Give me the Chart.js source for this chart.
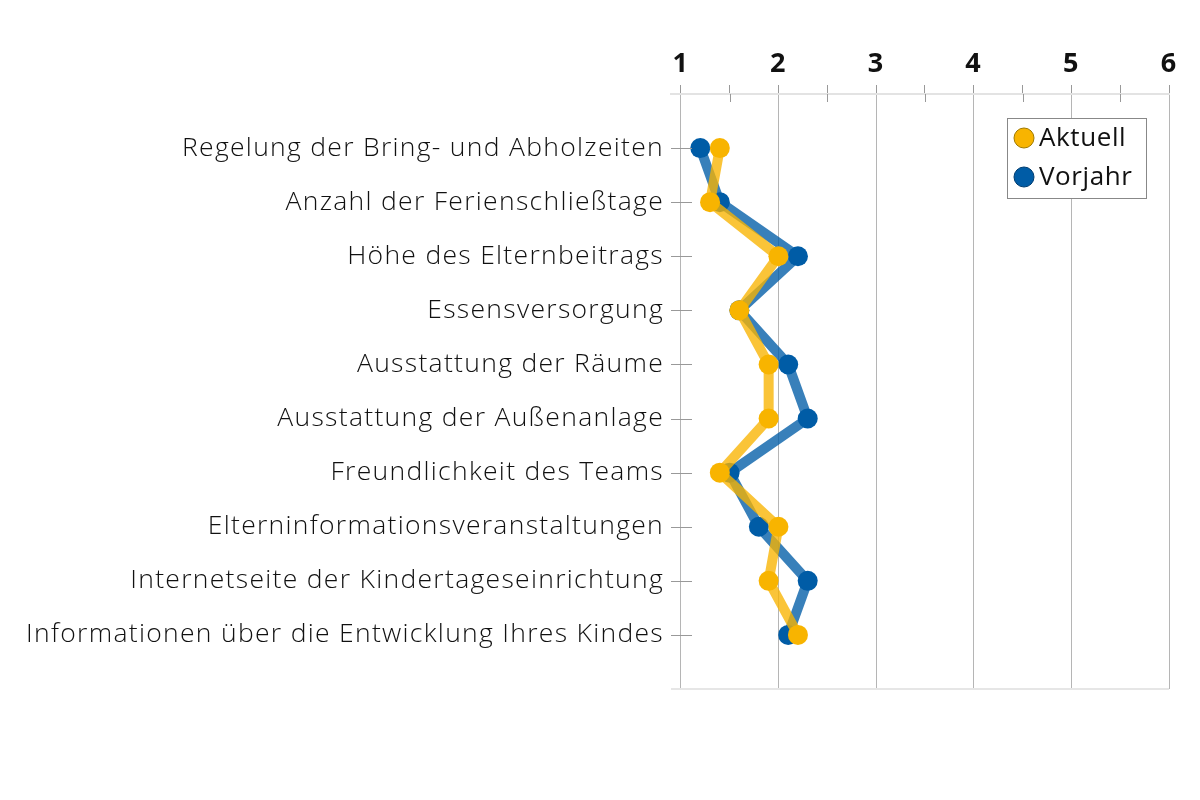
<!DOCTYPE html>
<html>
<head>
<meta charset="utf-8">
<script src="https://cdn.jsdelivr.net/npm/chart.js@4"></script>
<style>
  html, body { margin: 0; padding: 0; background: #fff; }
  #wrap { width: 1200px; height: 800px; }
</style>
</head>
<body>
<div id="wrap"><canvas id="chart"></canvas></div>
<script>
// categories (top to bottom)
const categories = [
  "Regelung der Bring- und Abholzeiten",
  "Anzahl der Ferienschließtage",
  "Höhe des Elternbeitrags",
  "Essensversorgung",
  "Ausstattung der Räume",
  "Ausstattung der Außenanlage",
  "Freundlichkeit des Teams",
  "Elterninformationsveranstaltungen",
  "Internetseite der Kindertageseinrichtung",
  "Informationen über die Entwicklung Ihres Kindes"
];
const aktuell = [1.4, 1.3, 2.0, 1.6, 1.9, 1.9, 1.4, 2.0, 1.9, 2.2];
const vorjahr = [1.2, 1.4, 2.2, 1.6, 2.1, 2.3, 1.5, 1.8, 2.3, 2.1];
const xTicks = [1, 1.5, 2, 2.5, 3, 3.5, 4, 4.5, 5, 5.5, 6];

const yellow = "#F8B400";
const blue = "#005CA6";

// empty slots above and below so the rows sit like in the original
const labels = ["", ...categories, ""];
const pad = arr => [null, ...arr, null];

// the original font is wider, so spread the letters a little
const spacing = {
  id: "spacing",
  beforeDraw(chart) { chart.ctx.letterSpacing = "1.3px"; }
};

// short marks: category ticks on the left, half-step ticks under the top axis
const extraTicks = {
  id: "extraTicks",
  afterDraw(chart) {
    const ctx = chart.ctx;
    const area = chart.chartArea;
    const x = chart.scales.x, y = chart.scales.y;
    ctx.save();
    ctx.strokeStyle = "#999";
    ctx.lineWidth = 1;
    for (let i = 1; i <= categories.length; i++) {
      const py = Math.round(y.getPixelForValue(i)) + 0.5;
      ctx.beginPath();
      ctx.moveTo(area.left, py);
      ctx.lineTo(area.left + 21, py);
      ctx.stroke();
    }
    xTicks.filter(v => v % 1 !== 0).forEach(v => {
      const px = Math.round(x.getPixelForValue(v)) + 0.5;
      ctx.beginPath();
      ctx.moveTo(px, area.top);
      ctx.lineTo(px, area.top + 8);
      ctx.stroke();
    });
    // bottom line
    ctx.strokeStyle = "#e6e6e6";
    ctx.lineWidth = 2;
    ctx.beginPath();
    ctx.moveTo(area.left, area.bottom);
    ctx.lineTo(area.right, area.bottom);
    ctx.stroke();
    ctx.restore();
  }
};

// legend box inside the plot
const boxLegend = {
  id: "boxLegend",
  afterDraw(chart) {
    const ctx = chart.ctx;
    const items = [["Aktuell", yellow, "#a07a00"], ["Vorjahr", blue, "#003d70"]];
    const left = 1007, top = 118, w = 139, h = 80;
    ctx.save();
    ctx.letterSpacing = "0.6px";
    ctx.fillStyle = "#fff";
    ctx.fillRect(left, top, w, h);
    ctx.strokeStyle = "#888";
    ctx.lineWidth = 1;
    ctx.strokeRect(left + 0.5, top + 0.5, w, h);
    ctx.font = "26px 'Open Sans', sans-serif";
    ctx.textBaseline = "middle";
    items.forEach((it, i) => {
      const cy = top + 20 + i * 39;
      ctx.beginPath();
      ctx.arc(left + 17, cy, 10, 0, Math.PI * 2);
      ctx.fillStyle = it[1];
      ctx.fill();
      ctx.strokeStyle = it[2];
      ctx.stroke();
      ctx.fillStyle = "#111";
      ctx.fillText(it[0], left + 32, cy + 1);
    });
    ctx.restore();
  }
};

new Chart(document.getElementById("chart"), {
  type: "line",
  data: {
    labels: labels,
    datasets: [
      {
        label: "Aktuell",
        data: pad(aktuell),
        borderColor: "rgba(248,180,0,0.78)",
        backgroundColor: yellow,
        pointBackgroundColor: yellow,
        pointBorderWidth: 0,
        pointRadius: 10,
        borderWidth: 10,
        borderJoinStyle: "miter"
      },
      {
        label: "Vorjahr",
        data: pad(vorjahr),
        borderColor: "rgba(0,92,166,0.78)",
        backgroundColor: blue,
        pointBackgroundColor: blue,
        pointBorderWidth: 0,
        pointRadius: 10,
        borderWidth: 10,
        borderJoinStyle: "miter"
      }
    ]
  },
  options: {
    indexAxis: "y",
    responsive: true,
    maintainAspectRatio: false,
    animation: false,
    layout: { padding: { left: 0, top: 0, right: 31, bottom: 111 } },
    plugins: {
      legend: { display: false },
      tooltip: { enabled: false }
    },
    scales: {
      x: {
        type: "linear",
        position: "top",
        min: 0.9,
        max: 6,
        afterBuildTicks: scale => { scale.ticks = xTicks.map(v => ({ value: v })); },
        afterFit: scale => { scale.height = 94; },
        border: { display: true, color: "#e3e3e3", width: 2 },
        grid: {
          color: c => (c.tick && c.tick.value % 1 === 0) ? "#b5b5b5" : "rgba(0,0,0,0)",
          tickColor: "#999",
          tickLength: 9,
          lineWidth: 1
        },
        ticks: {
          autoSkip: false,
          maxRotation: 0,
          padding: 4,
          color: "#111",
          font: { family: "'Open Sans', sans-serif", size: 27, weight: "bold" },
          callback: v => (v % 1 === 0 ? String(v) : "")
        }
      },
      y: {
        type: "category",
        offset: false,
        afterFit: scale => { scale.width = 671; },
        border: { display: false },
        grid: { display: false, drawTicks: false },
        ticks: {
          autoSkip: false,
          padding: 7,
          color: "#111",
          font: { family: "'Open Sans', sans-serif", size: 26.5, weight: 300 }
        }
      }
    }
  },
  plugins: [spacing, extraTicks, boxLegend]
});
</script>
</body>
</html>
